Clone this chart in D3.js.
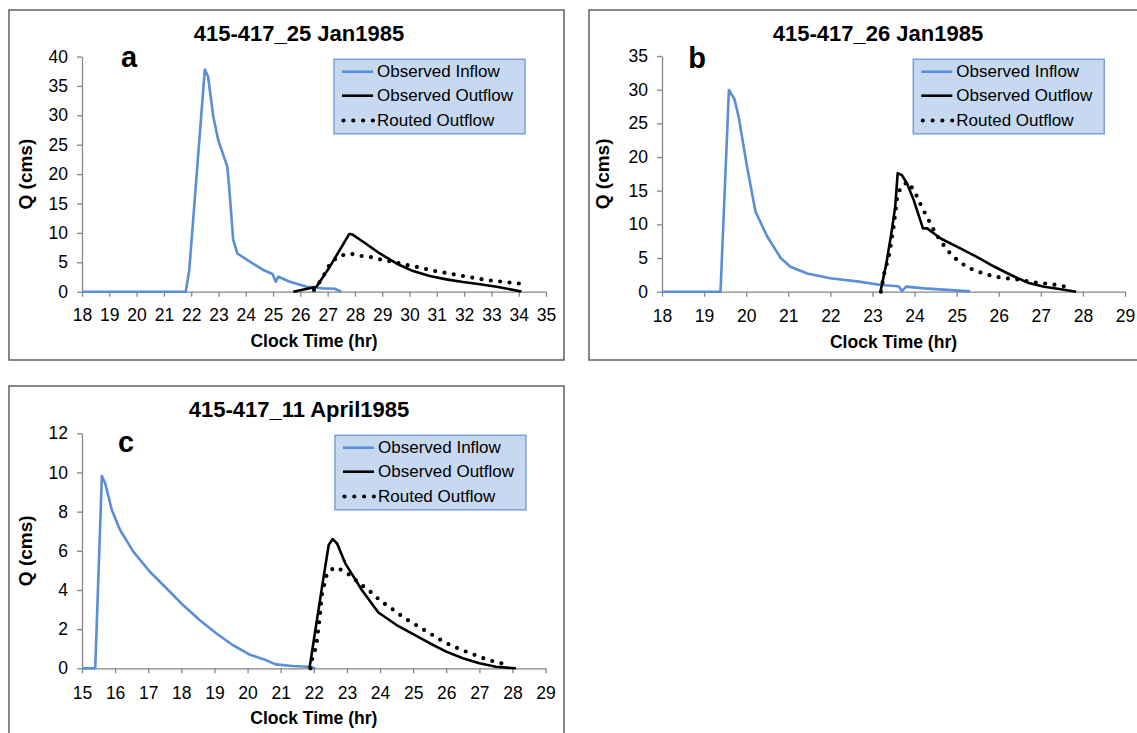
<!DOCTYPE html>
<html>
<head>
<meta charset="utf-8">
<script src="https://cdn.jsdelivr.net/npm/d3@7"></script>
<style>
  body { margin: 0; background: #fff; }
  svg { display: block; font-family: "Liberation Sans", Arial, sans-serif; }
</style>
</head>
<body>
<div id="chart"></div>
<script>
// Reservoir routing hydrographs, reach 415-417 (three events)

var legendNames = ["Observed Inflow", "Observed Outflow", "Routed Outflow"];

// panel a : 25 Jan 1985   [clock hour, Q (cms)]
var inflowA = [[18, 0], [21.8, 0], [21.93, 3.7], [22.5, 37.8], [22.62, 36.6], [22.81, 29.8], [22.99, 25.8],
    [23.32, 21.3], [23.39, 17.9], [23.54, 8.8], [23.69, 6.5], [24.15, 5.1], [24.64, 3.7], [24.98, 3.0],
    [25.1, 1.7], [25.19, 2.55], [25.62, 1.7], [26.23, 0.85], [26.84, 0.57], [27.26, 0.5], [27.5, 0]];
var outflowA = [[25.74, 0], [26.59, 0.85], [27.08, 4.25], [27.79, 9.8], [27.9, 9.75], [28.3, 8.5], [28.91, 6.5],
    [29.52, 4.8], [30.13, 3.5], [30.74, 2.67], [31.35, 2.1], [31.96, 1.65], [32.58, 1.26], [33.19, 0.85], [34.1, 0.05]];
var routedA = [[26.5, 0.3], [26.81, 2.3], [26.96, 3.7], [27.14, 5.1], [27.45, 6.1], [27.81, 6.5], [28.18, 6.1],
    [28.52, 5.95], [28.85, 5.56], [29.22, 5.22], [29.55, 4.93], [29.89, 4.54], [30.23, 4.25], [30.6, 3.86],
    [30.93, 3.52], [31.29, 3.23], [31.62, 2.96], [31.96, 2.67], [32.33, 2.38], [32.67, 2.1], [33.03, 1.87],
    [33.39, 1.7], [33.74, 1.53], [34.08, 1.36]];

// panel b : 26 Jan 1985
var inflowB = [[18, 0], [19.39, 0], [19.59, 29.95], [19.72, 28.6], [19.82, 26.0], [20.02, 18.6], [20.22, 11.9],
    [20.5, 8.2], [20.82, 5.0], [21.05, 3.7], [21.45, 2.7], [22.0, 2.0], [22.68, 1.5], [23.2, 1.0], [23.62, 0.8],
    [23.7, 0.1], [23.8, 0.75], [24.23, 0.5], [25.32, 0.05]];
var outflowB = [[23.19, 0], [23.33, 4.2], [23.45, 8.7], [23.54, 12.6], [23.6, 17.6], [23.7, 17.3], [23.82, 16.1],
    [23.98, 13.6], [24.2, 9.4], [24.3, 9.4], [24.62, 7.9], [25.1, 6.4], [25.5, 5.1], [25.9, 3.7], [26.29, 2.48],
    [26.69, 1.34], [27.08, 0.74], [27.48, 0.36], [27.84, 0]];
var routedB = [[23.2, 0], [23.28, 2.73], [23.4, 5.55], [23.5, 9.5], [23.59, 14.1], [23.67, 15.5], [23.83, 16.3],
    [23.97, 15.2], [24.07, 14.0], [24.16, 12.7], [24.27, 11.4], [24.37, 10.2], [24.48, 8.9], [24.6, 7.7],
    [24.75, 6.4], [24.9, 5.3], [25.06, 4.5], [25.26, 3.6], [25.47, 3.07], [25.68, 2.63], [25.91, 2.23],
    [26.13, 2.03], [26.37, 1.89], [26.6, 1.63], [26.82, 1.4], [27.05, 1.25], [27.27, 1.1], [27.5, 0.85], [27.72, 0.65]];

// panel c : 11 April 1985
var inflowC = [[15, 0], [15.4, 0], [15.6, 9.82], [15.7, 9.45], [15.9, 8.08], [16.15, 7.06], [16.55, 5.96],
    [17.05, 4.93], [17.55, 4.09], [18.05, 3.23], [18.55, 2.47], [19.05, 1.79], [19.55, 1.19], [20.05, 0.71],
    [20.55, 0.42], [20.85, 0.2], [21.35, 0.12], [21.85, 0.08], [22.05, 0]];
var outflowC = [[21.87, 0], [22.25, 4.17], [22.45, 6.3], [22.57, 6.6], [22.7, 6.38], [22.95, 5.36], [23.45, 4.0],
    [23.95, 2.85], [24.5, 2.21], [25.0, 1.75], [25.5, 1.28], [26.0, 0.85], [26.5, 0.51], [27.0, 0.26],
    [27.5, 0.08], [28.1, 0]];
var routedC = [[21.9, 0], [21.95, 0.46], [22.07, 1.1], [22.17, 2.47], [22.25, 3.83], [22.4, 4.85], [22.63, 5.16],
    [22.9, 4.98], [23.13, 4.71], [23.35, 4.37], [23.57, 4.09], [23.8, 3.79], [24.0, 3.45], [24.27, 3.15],
    [24.5, 2.86], [24.75, 2.55], [25.0, 2.3], [25.25, 2.04], [25.5, 1.79], [25.75, 1.53], [26.0, 1.28],
    [26.28, 1.07], [26.55, 0.88], [26.82, 0.71], [27.08, 0.54], [27.35, 0.39], [27.65, 0.26], [27.92, 0.17]];

var titles = ["415-417_25 Jan1985", "415-417_26 Jan1985", "415-417_11 April1985"];
var letters = ["a", "b", "c"];
var xDomains = [[18, 35], [18, 29], [15, 29]];
var yDomains = [[0, 40], [0, 35], [0, 12]];
var yTickSteps = [5, 5, 2];

var blue = "#5A8ED6";

var panels = [
    {frame: [9, 10, 555, 350], plot: [82, 56.5, 546, 291.7], titleX: 299, titleY: 40.5, letterX: 129, letterY: 67,
        legend: [334, 59.3], xLabY: 321.5, xTitleY: 347, yTitleX: 25.5,
        inflow: inflowA, outflow: outflowA, routed: routedA},
    {frame: [589, 10, 570, 350], plot: [662, 56, 1125, 291.7], titleX: 878, titleY: 40.5, letterX: 697, letterY: 68,
        legend: [913.3, 59.3], xLabY: 322.5, xTitleY: 347.5, yTitleX: 602.7,
        inflow: inflowB, outflow: outflowB, routed: routedB},
    {frame: [9, 386, 555, 360], plot: [82, 433.3, 545.6, 668.3], titleX: 299, titleY: 417, letterX: 126, letterY: 451.7,
        legend: [335, 435.3], xLabY: 699.5, xTitleY: 723.5, yTitleX: 25.5,
        inflow: inflowC, outflow: outflowC, routed: routedC}
];

var svg = d3.select("#chart").append("svg")
    .attr("width", 1137)
    .attr("height", 733);

svg.append("rect").attr("width", 1137).attr("height", 733).attr("fill", "#fff");

panels.forEach(function (p, i) {
    drawPanel(p, i);
});

function drawPanel(p, i) {
    var g = svg.append("g");

    // chart border
    g.append("rect")
        .attr("x", p.frame[0]).attr("y", p.frame[1])
        .attr("width", p.frame[2]).attr("height", p.frame[3])
        .attr("fill", "none")
        .attr("stroke", "#555")
        .attr("stroke-width", 1.4);

    var x = d3.scaleLinear().domain(xDomains[i]).range([p.plot[0], p.plot[2]]);
    var y = d3.scaleLinear().domain(yDomains[i]).range([p.plot[3], p.plot[1]]);

    var xTicks = d3.range(xDomains[i][0], xDomains[i][1] + 1, 1);
    var yTicks = d3.range(yDomains[i][0], yDomains[i][1] + 0.001, yTickSteps[i]);

    var xAxis = g.append("g")
        .attr("transform", "translate(0," + p.plot[3] + ")")
        .call(d3.axisBottom(x).tickValues(xTicks).tickSize(5).tickSizeOuter(0));
    xAxis.selectAll("text")
        .attr("y", p.xLabY - p.plot[3])
        .attr("dy", null);

    var yAxis = g.append("g")
        .attr("transform", "translate(" + p.plot[0] + ",0)")
        .call(d3.axisLeft(y).tickValues(yTicks).tickSize(5).tickSizeOuter(0).tickPadding(9));

    [xAxis, yAxis].forEach(function (ax) {
        ax.select(".domain").attr("stroke", "#868686").attr("stroke-width", 1.3);
        ax.selectAll(".tick line").attr("stroke", "#868686").attr("stroke-width", 1.3);
        ax.selectAll("text")
            .attr("fill", "#000")
            .style("font-family", "'Liberation Sans', Arial, sans-serif")
            .style("font-size", "17.5px");
    });

    // titles
    g.append("text")
        .attr("x", p.titleX).attr("y", p.titleY)
        .attr("text-anchor", "middle")
        .style("font-weight", "bold").style("font-size", "22px")
        .text(titles[i]);

    g.append("text")
        .attr("x", p.letterX).attr("y", p.letterY)
        .attr("text-anchor", "middle")
        .style("font-weight", "bold").style("font-size", "29px")
        .text(letters[i]);

    g.append("text")
        .attr("x", (p.plot[0] + p.plot[2]) / 2).attr("y", p.xTitleY)
        .attr("text-anchor", "middle")
        .style("font-weight", "bold").style("font-size", "17.5px")
        .text("Clock Time (hr)");

    g.append("text")
        .attr("transform", "translate(" + p.yTitleX + "," + ((p.plot[1] + p.plot[3]) / 2) + ") rotate(-90)")
        .attr("text-anchor", "middle")
        .attr("dominant-baseline", "central")
        .style("font-weight", "bold").style("font-size", "19px")
        .text("Q (cms)");

    var line = d3.line()
        .x(function (d) { return x(d[0]); })
        .y(function (d) { return y(d[1]); });

    g.append("path")
        .datum(p.inflow)
        .attr("d", line)
        .attr("fill", "none")
        .attr("stroke", blue)
        .attr("stroke-width", 2.6)
        .attr("stroke-linejoin", "round");

    g.append("path")
        .datum(p.outflow)
        .attr("d", line)
        .attr("fill", "none")
        .attr("stroke", "#000")
        .attr("stroke-width", 2.6)
        .attr("stroke-linejoin", "round");

    g.append("path")
        .datum(p.routed)
        .attr("d", line)
        .attr("fill", "none")
        .attr("stroke", "#000")
        .attr("stroke-width", 4.2)
        .attr("stroke-linecap", "round")
        .attr("stroke-dasharray", "0,9.4");

    // legend
    var lx = p.legend[0], ly = p.legend[1];
    var leg = g.append("g");
    leg.append("rect")
        .attr("x", lx).attr("y", ly)
        .attr("width", 191).attr("height", 74.5)
        .attr("fill", "#C6D9F1")
        .attr("stroke", "#7D9ED6")
        .attr("stroke-width", 1.5);

    var rowY = [12.4, 36.4, 61.2];
    legendNames.forEach(function (name, k) {
        var yy = ly + rowY[k];
        var sw = leg.append("line")
            .attr("x1", lx + 8).attr("x2", lx + 39)
            .attr("y1", yy).attr("y2", yy)
            .attr("stroke", k === 0 ? blue : "#000");
        if (k === 2) {
            sw.attr("x1", lx + 9.5).attr("x2", lx + 39)
                .attr("stroke-width", 4.2)
                .attr("stroke-linecap", "round")
                .attr("stroke-dasharray", "0,9.8");
        } else {
            sw.attr("stroke-width", 2.6);
        }
        leg.append("text")
            .attr("x", lx + 43).attr("y", yy)
            .attr("dominant-baseline", "central")
            .style("font-size", "17px")
            .text(name);
    });
}
</script>
</body>
</html>
